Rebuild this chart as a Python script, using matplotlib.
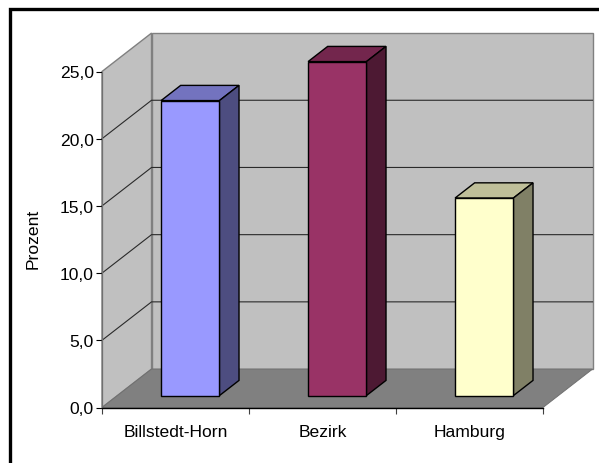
import matplotlib
matplotlib.use("Agg")
from matplotlib import pyplot as plt
from matplotlib.lines import Line2D
from matplotlib.patches import Polygon

plt.rcParams['font.family'] = ['Liberation Sans', 'DejaVu Sans']

categories = ["Billstedt-Horn", "Bezirk", "Hamburg"]
values = [21.95, 24.85, 14.7]
y_ticks = [0, 5, 10, 15, 20, 25]
y_labels = ["0,0", "5,0", "10,0", "15,0", "20,0", "25,0"]
front_colors = ["#9999FF", "#993366", "#FFFFCC"]
top_colors = ["#7373BF", "#73264D", "#BFBF99"]
side_colors = ["#4D4D80", "#4D1933", "#808066"]

W, H = 599, 464
FS = 12.6
# Verschiebung der Tiefe in Datenkoordinaten
DX = 0.337
DY = 2.86
BAR_W = 0.397
D0, D1 = 0.31, 0.705


def proj(x, y, d=0.0):
    return (x + d * DX, y + d * DY)


def poly(ax, pts, fc, ec="none", lw=0.0, z=1):
    ax.add_patch(Polygon(pts, closed=True, facecolor=fc, edgecolor=ec,
                         linewidth=lw, zorder=z, clip_on=False,
                         joinstyle="miter"))


fig = plt.figure(figsize=(W / 100, H / 100), dpi=100, facecolor="white")
ax = fig.add_axes([102 / W, 1 - 408.5 / H, 441 / W, 336 / H])
ax.set_xlim(0, 3)
ax.set_ylim(0, 25)
ax.patch.set_visible(False)

# Wände und Boden
poly(ax, [proj(0, 0, 1), proj(3, 0, 1), proj(3, 25, 1), proj(0, 25, 1)],
     "#C0C0C0", "#808080", 1.0, 1)
poly(ax, [proj(0, 0), proj(0, 0, 1), proj(0, 25, 1), proj(0, 25)],
     "#C0C0C0", "#808080", 1.0, 1)
poly(ax, [proj(0, 0), proj(3, 0), proj(3, 0, 1), proj(0, 0, 1)],
     "#808080", "#707070", 0.7, 2)

# Gitterlinien
for v in y_ticks[1:-1]:
    a, b, c = proj(0, v), proj(0, v, 1), proj(3, v, 1)
    ax.plot([a[0], b[0], c[0]], [a[1], b[1], c[1]], color="#2A2A2A",
            lw=0.8, zorder=3, clip_on=False)

# Säulen
for i, v in enumerate(values):
    x0 = i + 0.5 - BAR_W / 2 - 0.004
    x1 = x0 + BAR_W
    poly(ax, [proj(x0, v, D0), proj(x1, v, D0), proj(x1, v, D1), proj(x0, v, D1)],
         top_colors[i], "black", 1.0, 4)
    poly(ax, [proj(x1, 0, D0), proj(x1, 0, D1), proj(x1, v, D1), proj(x1, v, D0)],
         side_colors[i], "black", 1.0, 4)
    poly(ax, [proj(x0, 0, D0), proj(x1, 0, D0), proj(x1, v, D0), proj(x0, v, D0)],
         front_colors[i], "black", 1.0, 5)

# Achsen
for s in ["top", "right"]:
    ax.spines[s].set_visible(False)
ax.spines["left"].set_color("#707070")
ax.spines["left"].set_linewidth(0.9)
ax.spines["left"].set_zorder(6)
ax.spines["bottom"].set_color("black")
ax.spines["bottom"].set_linewidth(1.0)
ax.spines["bottom"].set_zorder(6)

ax.set_yticks(y_ticks)
ax.set_yticklabels(y_labels, fontsize=FS)
ax.tick_params(axis="y", length=4.5, width=0.8, pad=1.5, color="black")
ax.set_xticks([0, 1, 2, 3])
ax.set_xticklabels([])
ax.tick_params(axis="x", which="major", length=4.5, width=0.8, color="#404040")
ax.set_xticks([0.5, 1.5, 2.5], minor=True)
ax.set_xticklabels(categories, minor=True, fontsize=FS)
ax.tick_params(axis="x", which="minor", length=0, pad=12)

fig.text(33 / W, 1 - 238.5 / H, "Prozent", rotation=90, fontsize=FS,
         ha="center", va="center")

# Rahmen nur links und oben
fig.add_artist(Line2D([9.5 / W, 9.5 / W, 1], [0, 1 - 9.5 / H, 1 - 9.5 / H],
                      color="black", lw=2.4, solid_joinstyle="miter",
                      transform=fig.transFigure))

fig.savefig("out.png", dpi=100)
